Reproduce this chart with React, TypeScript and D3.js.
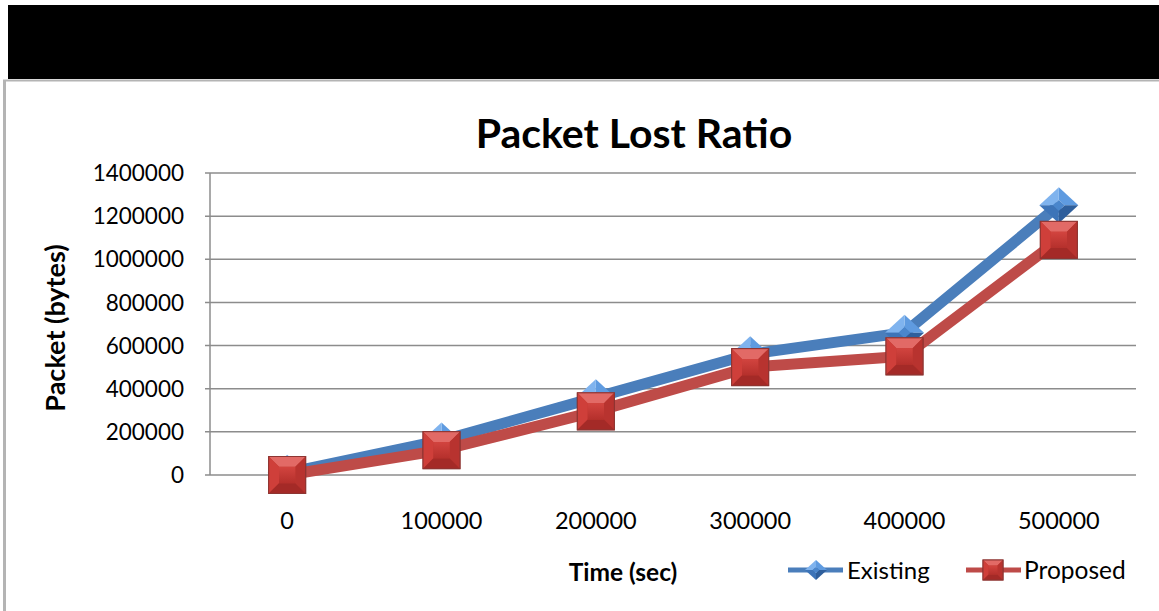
import React from "react";
import * as d3 from "d3";

const categories = ["0", "100000", "200000", "300000", "400000", "500000"];
const existing = [10000, 160000, 360000, 560000, 660000, 1250000];
const proposed = [0, 115000, 295000, 500000, 550000, 1090000];
const yTicks = [0, 200000, 400000, 600000, 800000, 1000000, 1200000, 1400000];

const W = 1159;
const H = 611;
const FONT = "Lato, 'Open Sans', sans-serif";

const plot = { left: 210, right: 1136, top: 173, bottom: 475 };

const BLUE = "#4a7ebb";
const RED = "#be4b48";

function SquareMarker({ cx, cy, s }: { cx: number; cy: number; s: number }) {
  const h = s / 2;
  const i = s * 0.22;
  const pts = (arr: number[][]) => arr.map((p) => p.join(",")).join(" ");
  const x0 = cx - h, x1 = cx + h, y0 = cy - h, y1 = cy + h;
  const ix0 = cx - i, ix1 = cx + i, iy0 = cy - i, iy1 = cy + i;
  return (
    <g>
      <rect x={x0} y={y0} width={s} height={s} fill="#c0392f" stroke="#8a2a27" strokeWidth={1} />
      <polygon points={pts([[x0, y0], [x1, y0], [ix1, iy0], [ix0, iy0]])} fill="#e26a66" />
      <polygon points={pts([[x0, y0], [ix0, iy0], [ix0, iy1], [x0, y1]])} fill="#cf3f3a" />
      <polygon points={pts([[x1, y0], [x1, y1], [ix1, iy1], [ix1, iy0]])} fill="#b8332f" />
      <polygon points={pts([[x0, y1], [ix0, iy1], [ix1, iy1], [x1, y1]])} fill="#a42a27" />
      <rect x={ix0} y={iy0} width={2 * i} height={2 * i} fill="url(#redFace)" />
      <rect x={x0} y={y0} width={s} height={s} fill="none" stroke="#8d3532" strokeWidth={1} />
    </g>
  );
}

function DiamondMarker({ cx, cy, w, h }: { cx: number; cy: number; w: number; h: number }) {
  const a = w / 2, b = h / 2;
  const pts = (arr: number[][]) => arr.map((p) => p.join(",")).join(" ");
  const ia = a * 0.3, ib = b * 0.3;
  return (
    <g>
      <polygon points={pts([[cx, cy - b], [cx + a, cy], [cx + ia, cy], [cx, cy - ib]])} fill="#5f9be0" />
      <polygon points={pts([[cx, cy - b], [cx - a, cy], [cx - ia, cy], [cx, cy - ib]])} fill="#7fb3ee" />
      <polygon points={pts([[cx - a, cy], [cx, cy + b], [cx, cy + ib], [cx - ia, cy]])} fill="#3d74b8" />
      <polygon points={pts([[cx + a, cy], [cx, cy + b], [cx, cy + ib], [cx + ia, cy]])} fill="#2f5f9c" />
      <polygon points={pts([[cx, cy - ib], [cx + ia, cy], [cx, cy + ib], [cx - ia, cy]])} fill="#4a86cc" />
    </g>
  );
}

export default function App() {
  const x = d3
    .scalePoint<string>()
    .domain(categories)
    .range([plot.left, plot.right])
    .padding(0.5);
  const y = d3.scaleLinear().domain([0, 1400000]).range([plot.bottom, plot.top]);

  const line = d3
    .line<number>()
    .x((_, i) => x(categories[i]) as number)
    .y((d) => y(d));

  return (
    <svg
      width={W}
      height={H}
      style={{ position: "absolute", left: 0, top: 0, display: "block" }}
      fontFamily={FONT}
    >
      <defs>
        <linearGradient id="redFace" x1="0" y1="0" x2="0" y2="1">
          <stop offset="0" stopColor="#d2443f" />
          <stop offset="1" stopColor="#b5302c" />
        </linearGradient>
      </defs>
      <rect x={0} y={0} width={W} height={H} fill="#ffffff" />
      {/* header band */}
      <rect x={8} y={5} width={W - 8} height={74} fill="#000000" />
      {/* chart frame */}
      <line x1={3} y1={80.5} x2={W} y2={80.5} stroke="#b4b4b4" strokeWidth={2} />
      <line x1={4.5} y1={80} x2={4.5} y2={H} stroke="#b4b4b4" strokeWidth={3} />

      <text
        x={634}
        y={148}
        textAnchor="middle"
        fontSize={41}
        fontWeight={700}
        fill="#000"
      >
        Packet Lost Ratio
      </text>

      {/* gridlines */}
      {yTicks.map((t) => (
        <line
          key={"g" + t}
          x1={plot.left - 5}
          x2={plot.right}
          y1={y(t)}
          y2={y(t)}
          stroke="#8c8c8c"
          strokeWidth={1.5}
        />
      ))}
      <line x1={plot.left} x2={plot.left} y1={plot.top} y2={plot.bottom} stroke="#8c8c8c" strokeWidth={1.5} />

      {yTicks.map((t) => (
        <text
          key={"yt" + t}
          x={184}
          y={y(t)}
          dy="0.36em"
          textAnchor="end"
          fontSize={22.5}
          fill="#000"
        >
          {String(t)}
        </text>
      ))}
      {categories.map((c) => (
        <text
          key={"xt" + c}
          x={x(c) as number}
          y={529}
          textAnchor="middle"
          fontSize={23.5}
          fill="#000"
        >
          {c}
        </text>
      ))}

      <text
        transform={`translate(65,328) rotate(-90)`}
        textAnchor="middle"
        fontSize={27}
        fontWeight={700}
        fill="#000"
      >
        Packet (bytes)
      </text>
      <text x={623} y={581} textAnchor="middle" fontSize={24.5} fontWeight={700} fill="#000">
        Time (sec)
      </text>

      {/* series */}
      <path d={line(existing) || ""} fill="none" stroke={BLUE} strokeWidth={11} strokeLinejoin="round" />
      {existing.map((v, i) => (
        <DiamondMarker key={"e" + i} cx={x(categories[i]) as number} cy={y(v)} w={39} h={36} />
      ))}
      <path d={line(proposed) || ""} fill="none" stroke={RED} strokeWidth={11} strokeLinejoin="round" />
      {proposed.map((v, i) => (
        <SquareMarker key={"p" + i} cx={x(categories[i]) as number} cy={y(v)} s={37} />
      ))}

      {/* legend */}
      <line x1={788} x2={843} y1={570} y2={570} stroke={BLUE} strokeWidth={5} />
      <DiamondMarker cx={816} cy={570} w={22} h={20} />
      <text x={847} y={570} dy="0.36em" fontSize={24} fill="#000">
        Existing
      </text>
      <line x1={966} x2={1021} y1={570} y2={570} stroke={RED} strokeWidth={5} />
      <SquareMarker cx={993} cy={570} s={20} />
      <text x={1024} y={570} dy="0.36em" fontSize={24.5} fill="#000">
        Proposed
      </text>
    </svg>
  );
}
